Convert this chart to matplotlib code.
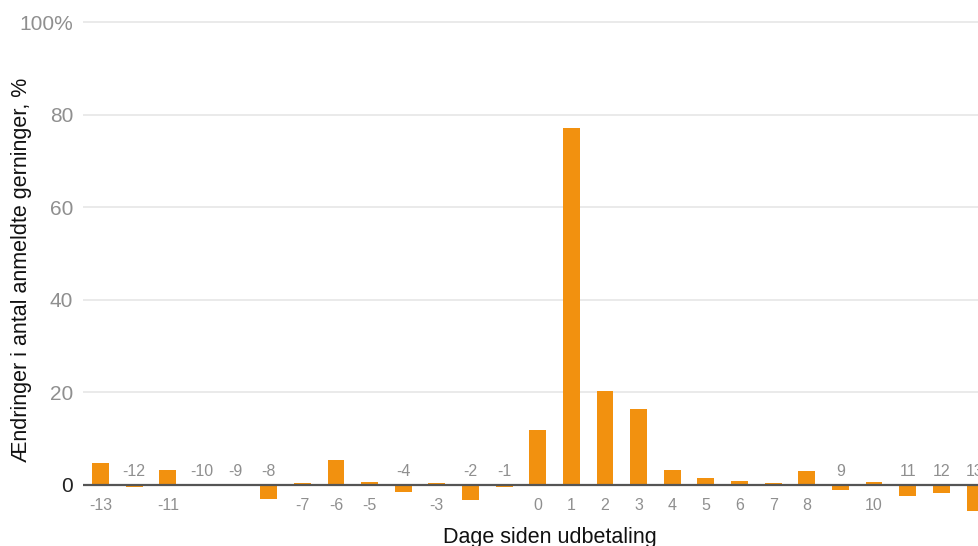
import matplotlib
matplotlib.use("Agg")
import matplotlib.pyplot as plt

days = list(range(-13, 14))
values = [4.7, -0.5, 3.2, 0.0, 0.0, -3.1, 0.4, 5.4, 0.6, -1.6, 0.4, -3.3, -0.5,
          11.9, 77.1, 20.3, 16.4, 3.2, 1.5, 0.9, 0.4, 3.0, -1.1, 0.6, -2.4, -1.8, -5.6]
yticks = [0, 20, 40, 60, 80, 100]
ytick_labels = ["0", "20", "40", "60", "80", "100%"]
xlabel = "Dage siden udbetaling"
ylabel = "Ændringer i antal anmeldte gerninger, %"

plt.rcParams['font.family'] = ['Liberation Sans', 'DejaVu Sans']

W, H = 979, 546
fig = plt.figure(figsize=(W / 100, H / 100), dpi=100)
y0px, y100px = 484.7, 22.0
ppu = (y0px - y100px) / 100
ylo, yhi = -10, 102
bottom_px = y0px + (-ylo) * ppu
top_px = y100px - (yhi - 100) * ppu
left_px = 83
ax = fig.add_axes([left_px / W, (H - bottom_px) / H, 1 - left_px / W, (bottom_px - top_px) / H])

ax.bar(days, values, width=0.5, color="#F2910F", zorder=3)
ax.set_xlim(-13.52, 13.12)
ax.set_ylim(ylo, yhi)

ax.set_yticks(yticks)
ax.set_yticklabels(ytick_labels, fontsize=15, color="#8f8f8f")
ax.get_yticklabels()[0].set_color("#222222")
ax.tick_params(axis='y', length=0, pad=7)
ax.set_xticks([])
for s in ax.spines.values():
    s.set_visible(False)
for t in yticks[1:]:
    ax.axhline(t, color="#e6e6e6", lw=1.2, zorder=1)
ax.axhline(0, color="#555555", lw=1.6, zorder=4)

for d, v in zip(days, values):
    off = -15 if v > 0 else 9.5
    ax.annotate(str(d), (d, 0), xytext=(0, off), textcoords="offset points",
                ha="center", va="center", fontsize=11.5, color="#8f8f8f")

fig.text(550 / W, 1 - 537 / H, xlabel, ha="center", va="center", fontsize=15.5, color="#111111")
fig.text(22 / W, 1 - 270 / H, ylabel, ha="center", va="center", rotation=90, fontsize=15.5, color="#111111")

fig.savefig("out.png", dpi=100)
